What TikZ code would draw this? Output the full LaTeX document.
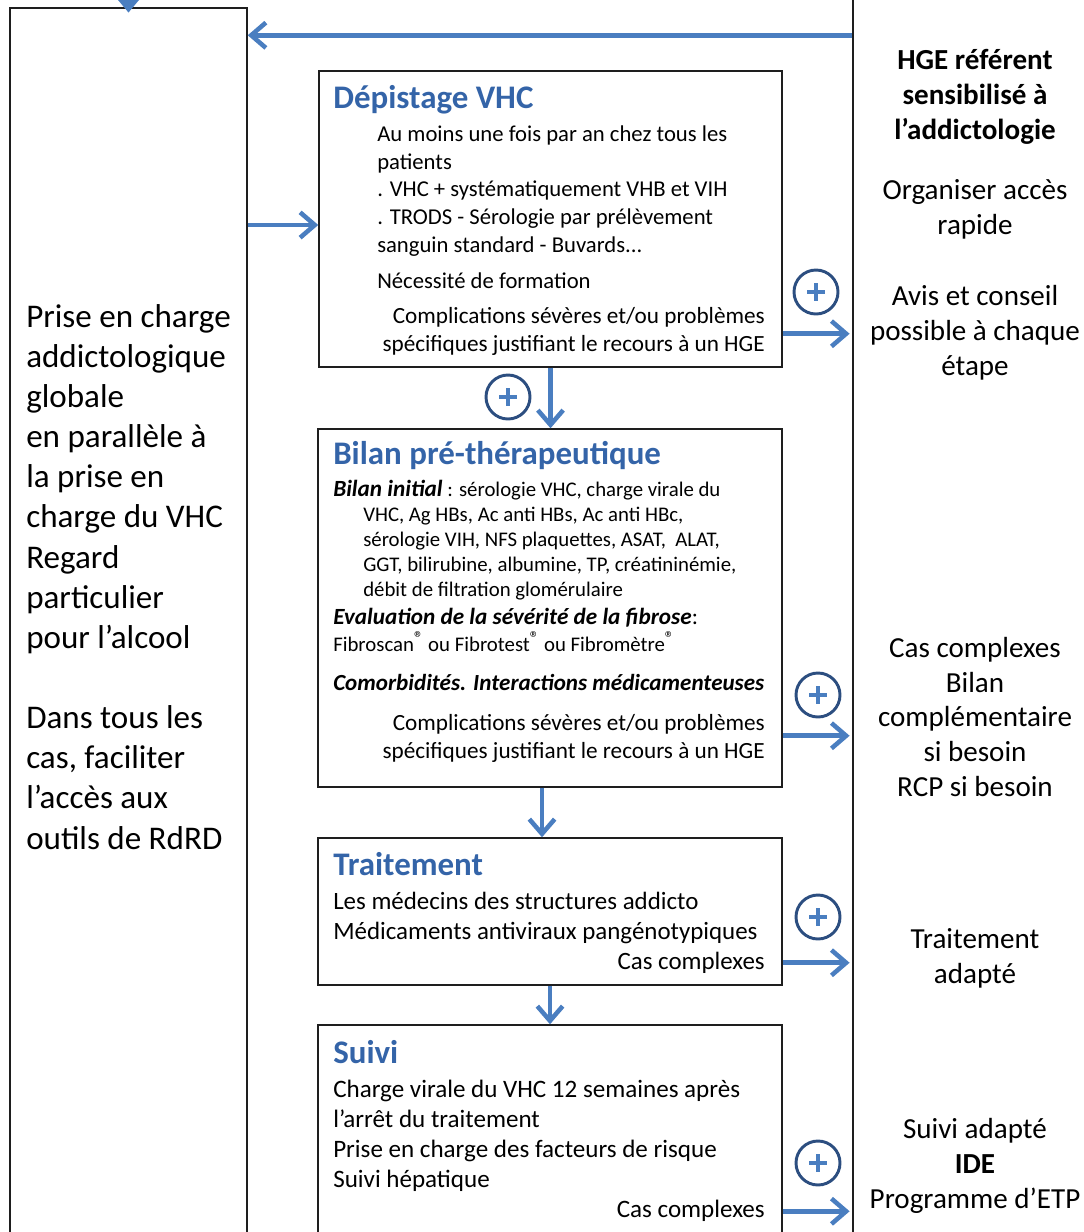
\documentclass[tikz,border=0pt]{standalone}
\usepackage{fontspec}
\setmainfont{Carlito}
\usetikzlibrary{positioning,arrows.meta,calc}
\definecolor{arrowC}{RGB}{74,126,192}
\definecolor{ringC}{RGB}{44,78,128}
\definecolor{titleC}{RGB}{52,100,168}
\definecolor{frameC}{RGB}{30,30,30}
\newcommand{\regd}{\raisebox{0.3em}{\fontsize{14}{14}\selectfont ®}}

\begin{document}
\begin{tikzpicture}[
  x=0.75pt, y=-0.75pt,
  box/.style={draw=frameC, line width=1.1pt, inner sep=0pt},
  ttl/.style={font=\fontsize{24.7}{28}\selectfont\bfseries, text=titleC, anchor=base west, inner sep=0pt},
  txt/.style={anchor=base west, inner sep=0pt, align=left},
  rtxt/.style={anchor=base east, inner sep=0pt, align=right},
  side/.style={anchor=base, inner sep=0pt, align=center, font=\fontsize{21.8}{26}\selectfont},
  arr/.style={-{Straight Barb[length=11pt, width=19pt]}, line width=3.4pt, color=arrowC},
  arrT/.style={-{Triangle[length=10pt, width=16pt]}, line width=3.4pt, color=arrowC},
  plus/.style={circle, draw=ringC, line width=2.2pt, minimum size=33pt, inner sep=0pt,
    path picture={\draw[arrowC, line width=2.4pt]
      ([xshift=-6.5pt]path picture bounding box.center) -- ([xshift=6.5pt]path picture bounding box.center)
      ([yshift=-6.5pt]path picture bounding box.center) -- ([yshift=6.5pt]path picture bounding box.center);}},
]
\useasboundingbox (0,0) rectangle (1084,1232);
\clip (0,0) rectangle (1084,1232);

% ---------- Side frames ----------
\node[box, minimum width=177.75pt, minimum height=939pt] (care) at (128.5,634) {};
\node[box, minimum width=192.75pt, minimum height=960pt] (hge) at (981.5,620) {};

% multi-line nodes sit on the baseline of their last line
\node[txt, font=\fontsize{24.8}{30.1}\selectfont] (careT) at (26,849)
  {Prise en charge\\addictologique\\globale\\en parallèle à\\la prise en\\charge du VHC\\Regard\\particulier\\pour l’alcool\\[30.1pt]
   Dans tous les\\cas, faciliter\\l’accès aux\\outils de RdRD};

\node[side, font=\fontsize{21.8}{26}\selectfont\bfseries] (hgeT) at (975,139) {HGE référent\\sensibilisé à\\l’addictologie};
\node[side] (acces) at (975,234) {Organiser accès\\rapide};
\node[side] (avis) at (975,375) {Avis et conseil\\possible à chaque\\étape};
\node[side] (cas) at (975,796) {Cas complexes\\Bilan\\complémentaire\\si besoin\\RCP si besoin};
\node[side] (tradapt) at (975,983) {Traitement\\adapté};
\node[side] (suiviad) at (975,1208) {Suivi adapté\\\textbf{IDE}\\Programme d’ETP};

% ---------- Dépistage ----------
\node[box, minimum width=347.25pt, minimum height=222pt] (dep) at (550.5,219) {};
\node[ttl] (depT) at (333,108) {Dépistage VHC};
\node[txt, font=\fontsize{17}{20.8}\selectfont] (depB) at (377,288)
  {Au moins une fois par an chez tous les\\patients\\. VHC + systématiquement VHB et VIH\\. TRODS - Sérologie par prélèvement\\sanguin standard - Buvards...\\[6pt]
   Nécessité de formation};
\node[rtxt, font=\fontsize{17.4}{21}\selectfont] (depC) at (765,351)
  {Complications sévères et/ou problèmes\\spécifiques justifiant le recours à un HGE};

% ---------- Bilan ----------
\node[box, minimum width=348pt, minimum height=268.5pt] (bilan) at (550,608) {};
\node[ttl] (bilanT) at (333,464) {Bilan pré-thérapeutique};
\node[txt, font=\fontsize{15.6}{18.75}\selectfont] (bilanB) at (333,596)
  {{\fontsize{17.4}{18}\selectfont\bfseries\itshape Bilan initial} : sérologie VHC, charge virale du\\
   \hspace*{22.5pt}VHC, Ag HBs, Ac anti HBs, Ac anti HBc,\\
   \hspace*{22.5pt}sérologie VIH, NFS plaquettes, ASAT,\ \ ALAT,\\
   \hspace*{22.5pt}GGT, bilirubine, albumine, TP, créatininémie,\\
   \hspace*{22.5pt}débit de filtration glomérulaire};
\node[txt, font=\fontsize{17.4}{18}\selectfont] (fibT) at (333,624)
  {\textbf{\textit{Evaluation de la sévérité de la fibrose}}:};
\node[txt, font=\fontsize{15.6}{18}\selectfont] (fibB) at (333,651)
  {Fibroscan\regd{} ou Fibrotest\regd{} ou Fibromètre\regd};
\node[txt, font=\fontsize{17.3}{18}\selectfont\bfseries\itshape] (comorb) at (333,690)
  {Comorbidités. Interactions médicamenteuses};
\node[rtxt, font=\fontsize{17.4}{20.3}\selectfont] (bilanC) at (765,758)
  {Complications sévères et/ou problèmes\\spécifiques justifiant le recours à un HGE};

% ---------- Traitement ----------
\node[box, minimum width=348pt, minimum height=110.25pt] (trait) at (550,911.5) {};
\node[ttl] (traitT) at (333,875) {Traitement};
\node[txt, font=\fontsize{18.7}{22.5}\selectfont] (traitB) at (333,939)
  {Les médecins des structures addicto\\Médicaments antiviraux pangénotypiques};
\node[rtxt, font=\fontsize{18.7}{22.5}\selectfont] (traitC) at (765,969) {Cas complexes};

% ---------- Suivi ----------
\node[box, minimum width=348pt, minimum height=176.25pt] (suivi) at (550,1142.5) {};
\node[ttl] (suiviT) at (333,1063) {Suivi};
\node[txt, font=\fontsize{18.8}{22.5}\selectfont] (suiviB) at (333,1187)
  {Charge virale du VHC 12 semaines après\\l’arrêt du traitement\\Prise en charge des facteurs de risque\\Suivi hépatique};
\node[rtxt, font=\fontsize{18.8}{22.5}\selectfont] (suiviC) at (765,1217) {Cas complexes};

% ---------- Connectors ----------
\coordinate (feed) at (128.5,-30);
\draw[arrT] (feed) -- ([yshift=-4pt]care.north);
\coordinate (back) at ($(hge.north west)+(0,56)$);
\draw[arr] (back) -- (back -| care.east);
\coordinate (d1) at ([yshift=-4.5pt]dep.west);
\draw[arr] (d1 -| care.east) -- (d1);

\draw[arr] (dep.south) -- (dep.south |- bilan.north);
\draw[arr] ([xshift=-6pt]bilan.south) -- ([xshift=-6pt]bilan.south |- trait.north);
\draw[arr] (trait.south) -- (trait.south |- suivi.north);

\coordinate (r1) at ($(dep.south east)+(0,-34)$);
\coordinate (r2) at ($(bilan.south east)+(0,-52)$);
\coordinate (r3) at ($(trait.south east)+(0,-23)$);
\coordinate (r4) at ($(suivi.north east)+(0,187)$);
\foreach \r in {r1,r2,r3,r4}
  \draw[arr] (\r) -- ([xshift=-2pt]\r -| hge.west);

% plus markers
\node[plus] (p1) at (508,397) {};
\node[plus] (p2) at (816,292) {};
\node[plus] (p3) at (818,695) {};
\node[plus] (p4) at (818,917) {};
\node[plus] (p5) at (818,1163) {};

\end{tikzpicture}
\end{document}
